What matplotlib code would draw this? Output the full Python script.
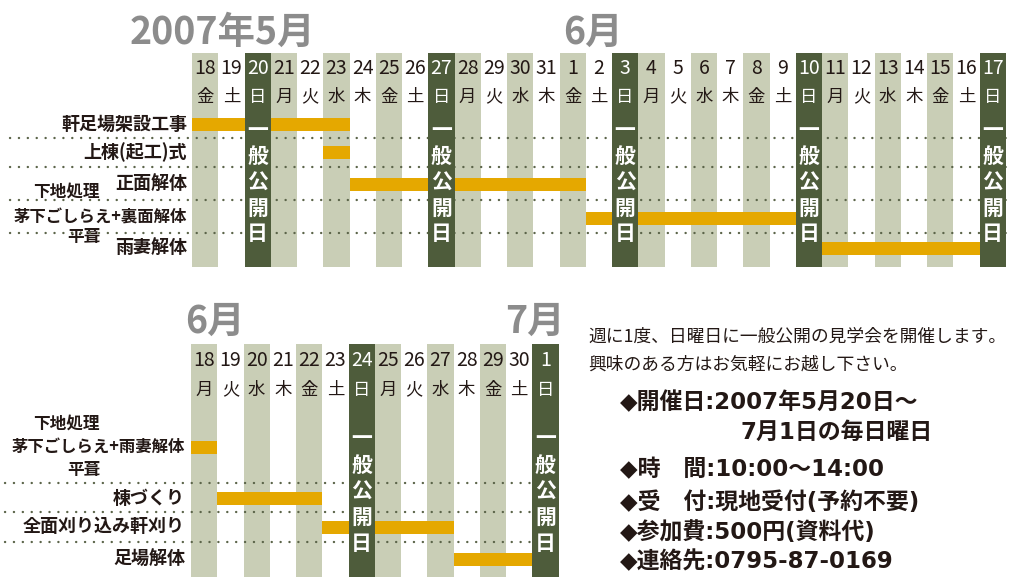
import matplotlib.pyplot as plt

plt.rcParams['font.family'] = ['Noto Sans CJK JP', 'DejaVu Sans']
plt.rcParams['lines.scale_dashes'] = False

top_days = [18, 19, 20, 21, 22, 23, 24, 25, 26, 27, 28, 29, 30, 31,
            1, 2, 3, 4, 5, 6, 7, 8, 9, 10, 11, 12, 13, 14, 15, 16, 17]
top_weekdays = list('金土日' + '月火水木金土日' * 4)
top_tasks = ['軒足場架設工事', '上棟(起工)式', '正面解体', '茅下ごしらえ+裏面解体', '雨妻解体']
top_start = [0, 5, 6, 15, 24]      # index into top_days
top_len = [6, 1, 9, 8, 6]          # days

bottom_days = [18, 19, 20, 21, 22, 23, 24, 25, 26, 27, 28, 29, 30, 1]
bottom_weekdays = list('月火水木金土日' * 2)
bottom_tasks = ['茅下ごしらえ+雨妻解体', '棟づくり', '全面刈り込み軒刈り', '足場解体']
bottom_start = [0, 1, 5, 10]
bottom_len = [1, 4, 5, 3]

info_intro = ['週に1度、日曜日に一般公開の見学会を開催します。',
              '興味のある方はお気軽にお越し下さい。']
info_lines = ['◆開催日:2007年5月20日〜', '7月1日の毎日曜日', '◆時　間:10:00〜14:00',
              '◆受　付:現地受付(予約不要)', '◆参加費:500円(資料代)', '◆連絡先:0795-87-0169']

# ---- style / layout ----
W, H = 1009, 577
DAY = 26.25
INK = '#231815'
LIGHT = '#C9CEB6'
DARK = '#4E5C3B'
BAR = '#E5A800'
GRAY = '#8C8C8C'
DOTS = '#5B6449'
SHADE = {'月': LIGHT, '水': LIGHT, '金': LIGHT, '日': DARK}

fig = plt.figure(figsize=(W / 100, H / 100), dpi=100)
bg = fig.add_axes([0, 0, 1, 1])
bg.set_xlim(0, W)
bg.set_ylim(H, 0)
bg.axis('off')


def gantt(x0, y0, y1, days, wds, starts, lens, row_y, dot_y, dot_left,
          num_y, wd_y, holiday_y):
    n = len(days)
    ax = fig.add_axes([x0 / W, 1 - y1 / H, n * DAY / W, (y1 - y0) / H])
    ax.set_xlim(0, n)
    ax.set_ylim(y1, y0)
    ax.axis('off')
    for i, (d, wd) in enumerate(zip(days, wds)):
        if wd in SHADE:
            ax.axvspan(i, i + 1, color=SHADE[wd], lw=0,
                       zorder=3 if wd == '日' else 0)
        col = 'white' if wd == '日' else INK
        ax.text(i + 0.5, num_y, str(d), ha='center', va='center',
                fontsize=14, color=col, zorder=5)
        ax.text(i + 0.5, wd_y, wd, ha='center', va='center',
                fontsize=12.5, color=col, zorder=5)
        if wd == '日':
            for k, ch in enumerate('一般公開日'):
                ax.text(i + 0.5, holiday_y + (k - 2) * 26, ch, ha='center',
                        va='center', fontsize=15, fontweight='bold',
                        color='white', zorder=5)
    ax.barh(row_y, lens, left=starts, height=13, color=BAR, zorder=2)
    xl = (dot_left - x0) / DAY
    for y in dot_y:
        ax.plot([xl, n], [y, y], color=DOTS, lw=1.7, ls=(0, (0.1, 6.3)),
                dash_capstyle='round', clip_on=False, zorder=1)
    return ax


top_row_y = [124, 152, 184, 218, 248]
bottom_row_y = [447, 498, 527, 559]

gantt(192, 53, 267, top_days, top_weekdays, top_start, top_len, top_row_y,
      [138, 167, 200, 233], 10, 69, 97, 182)
gantt(191, 344, 577, bottom_days, bottom_weekdays, bottom_start, bottom_len,
      bottom_row_y, [483, 512, 542], 5, 361, 390, 491)

# row labels (the long combined ones a touch smaller so they fit)
for x, tasks, rows in [(187, top_tasks, top_row_y), (185, bottom_tasks, bottom_row_y)]:
    for label, y in zip(tasks, rows):
        fs = 11.8 if '+' in label else 13
        bg.text(x, y, label, ha='right', va='center', fontsize=fs,
                fontweight='bold', color=INK)
for y1, y2 in [(192, 237), (424, 470)]:
    bg.text(100, y1, '下地処理', ha='right', va='center', fontsize=12,
            fontweight='bold', color=INK)
    bg.text(100, y2, '平葺', ha='right', va='center', fontsize=12,
            fontweight='bold', color=INK)

# month headings
for txt, x, y in [('2007年5月', 130, 44), ('6月', 563, 44),
                  ('6月', 185, 333), ('7月', 505, 333)]:
    bg.text(x, y, txt, ha='left', va='baseline', fontsize=27,
            fontweight='bold', color=GRAY)

# info block
for txt, y in zip(info_intro, [337, 365]):
    bg.text(588, y, txt, ha='left', va='center', fontsize=12.8, color=INK)
info_x = [620, 740, 620, 620, 620, 620]
info_y = [403, 432, 470, 502, 532, 562]
for txt, x, y in zip(info_lines, info_x, info_y):
    bg.text(x, y, txt, ha='left', va='center', fontsize=16.5,
            fontweight='bold', color=INK,
            family=['DejaVu Sans', 'Noto Sans CJK JP'])

fig.savefig('out.png', dpi=100)
